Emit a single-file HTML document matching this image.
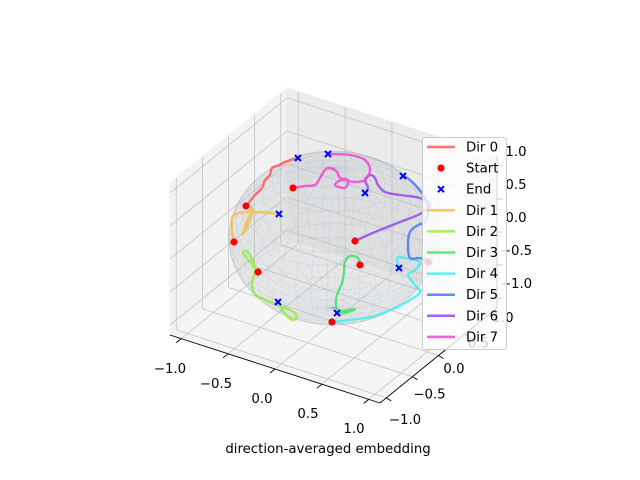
<!DOCTYPE html>
<html><head><meta charset="utf-8"><style>
html,body{margin:0;padding:0;background:#fff;}
svg{display:block;font-family:"DejaVu Sans","Liberation Sans",sans-serif;}
</style></head><body>
<svg id="chart" width="640" height="480" viewBox="0 0 640 480">
<g id="panes"></g>
<g id="grid"></g>
<g id="axes"></g>
<g id="sphere"></g>
<g id="traj"></g>
<g id="marks"></g>
<g id="labels" font-size="13.3" fill="#000"></g>
<text x="328" y="453" text-anchor="middle" font-size="13.3">direction-averaged embedding</text>
<g id="legend"></g>
</svg>
<script>
const ticks = [-1.0, -0.5, 0.0, 0.5, 1.0];
const tickText = ["−1.0", "−0.5", "0.0", "0.5", "1.0"];
const dirNames = ["Dir 0","Dir 1","Dir 2","Dir 3","Dir 4","Dir 5","Dir 6","Dir 7"];
const dirColors = ["#ff5a5a","#f2c04a","#98ec40","#40e46a","#40f0ee","#4a78ec","#9a45ee","#ee48d0"];
const dir0 = [[-87,32],[-78,43],[-71,50],[-68,58],[-63,63],[-61,70],[-53,73],[-48,76],[-35,80]];
const dir1 = [[-99,-4],[-101,8],[-101,20],[-95,25],[-85,26],[-81,30],[-83,18],[-90,4],[-83,23],[-75,26],[-54,24]];
const dir2 = [[-75,-34],[-83,-24],[-90,-15],[-85,-14],[-78,-30],[-81,-44],[-78,-56],[-63,-64],[-43,-72],[-36,-78],[-41,-82],[-51,-72],[-55,-64]];
const dir3 = [[27,-27],[25,-20],[17,-18],[12,-24],[11,-34],[9,-45],[4,-57],[3,-68],[7,-73],[22,-71],[12,-75],[4,-75]];
const dir4 = [[-1,-84],[17,-82],[42,-78],[62,-70],[77,-62],[87,-54],[82,-47],[75,-37],[82,-32],[87,-24],[72,-20],[64,-20],[66,-30]];
const dir5 = [[95,-24],[87,-20],[77,-20],[75,-7],[77,6],[85,13],[92,16],[95,28],[92,40],[85,50],[77,58],[70,62]];
const dir6 = [[22,-3],[42,6],[67,16],[87,24],[97,33],[87,40],[67,43],[52,46],[45,53],[42,60],[37,63],[32,58],[35,50],[32,45]];
const dir7 = [[-40,50],[-28,52],[-18,53],[-13,60],[-8,68],[-3,70],[4,66],[7,60],[15,58],[12,50],[2,53],[9,58],[22,56],[32,58],[37,68],[32,78],[17,83],[-5,84]];
const startPts = [[-87,32],[-99,-4],[-75,-34],[27,-27],[-1,-84],[95,-24],[22,-3],[-40,50]];
const endPts = [[-35,80],[-54,24],[-55,-64],[4,-75],[66,-30],[70,62],[32,45],[-5,84]];

const NS="http://www.w3.org/2000/svg";
function mk(tag, attrs, parent){const e=document.createElementNS(NS,tag);for(const k in attrs)e.setAttribute(k,attrs[k]);parent.appendChild(e);return e;}
const C=[333.5,245.5], EX=[105,34], EY=[58.5,-47.5], EZ=[0,-76];
const LX=1.12, LY=1.12, LZ=1.15;
function P(bx,by,bz){return [C[0]+bx*EX[0]+by*EY[0]+bz*EZ[0], C[1]+bx*EX[1]+by*EY[1]+bz*EZ[1]];}
function pts(arr){return arr.map(p=>p[0].toFixed(1)+","+p[1].toFixed(1)).join(" ");}
const SC=[333,238];
function sx(u){return SC[0]+u;}
function sy(v){return SC[1]-v;}
// smooth path through points (Catmull-Rom)
function smooth(arr){
  const p=arr.map(q=>[sx(q[0]),sy(q[1])]);
  let d="M"+p[0][0]+" "+p[0][1];
  for(let i=0;i<p.length-1;i++){
    const p0=p[Math.max(0,i-1)],p1=p[i],p2=p[i+1],p3=p[Math.min(p.length-1,i+2)];
    const c1=[p1[0]+(p2[0]-p0[0])/6,p1[1]+(p2[1]-p0[1])/6];
    const c2=[p2[0]-(p3[0]-p1[0])/6,p2[1]-(p3[1]-p1[1])/6];
    d+=`C${c1[0].toFixed(1)} ${c1[1].toFixed(1)} ${c2[0].toFixed(1)} ${c2[1].toFixed(1)} ${p2[0]} ${p2[1]}`;
  }
  return d;
}

const panes=document.getElementById('panes');
let e;
e=mk('polygon',{points:pts([P(-1,-1,-1),P(-1,1,-1),P(-1,1,1),P(-1,-1,1)]),fill:"#f2f2f2",stroke:"#f2f2f2"},panes);


e=mk('polygon',{points:pts([P(-1,1,-1),P(1,1,-1),P(1,1,1),P(-1,1,1)]),fill:"#ebebeb",stroke:"#ebebeb"},panes);


e=mk('polygon',{points:pts([P(-1,-1,-1),P(1,-1,-1),P(1,1,-1),P(-1,1,-1)]),fill:"#f5f5f5",stroke:"#f5f5f5"},panes);



const grid=document.getElementById('grid');
function gl(a,b,name){const l=mk('line',{x1:a[0],y1:a[1],x2:b[0],y2:b[1],stroke:"#c4c4c4","stroke-width":0.8},grid);}
ticks.forEach(t=>{
  const bx=t/LX, by=t/LY, bz=t/LZ;
  gl(P(bx,1,-1),P(bx,1,1),'grid-x-back');
  gl(P(bx,-1,-1),P(bx,1,-1),'grid-x-floor');
  gl(P(-1,by,-1),P(-1,by,1),'grid-y-left');
  gl(P(-1,by,-1),P(1,by,-1),'grid-y-floor');
  gl(P(-1,-1,bz),P(-1,1,bz),'grid-z-left');
  gl(P(-1,1,bz),P(1,1,bz),'grid-z-back');
});

const axes=document.getElementById('axes');
function al(a,b,name){const l=mk('line',{x1:a[0],y1:a[1],x2:b[0],y2:b[1],stroke:"#000","stroke-width":0.9},axes);}
al(P(-1,-1,-1),P(1,-1,-1),'x-axis-line');
al(P(1,-1,-1),P(1,1,-1),'y-axis-line');
al(P(1,1,-1),P(1,1,1),'z-axis-line');
ticks.forEach(t=>{
  const a=P(t/LX,-1,-1); al(a,[a[0]-5,a[1]+4],'x-tick');
  const b=P(1,t/LY,-1); al(b,[b[0]+5,b[1]+3],'y-tick');
  const c=P(1,1,t/LZ); al(c,[c[0]+6,c[1]],'z-tick');
});

const sph=document.getElementById('sphere');
e=mk('ellipse',{cx:SC[0],cy:SC[1],rx:104,ry:87,fill:"rgba(185,195,200,0.28)",stroke:"rgba(150,160,170,0.4)","stroke-width":0.6},sph);


const R=104,K=0.775;
function sp(th,ph){const x=Math.cos(ph)*Math.cos(th),y=Math.cos(ph)*Math.sin(th),z=Math.sin(ph)*K;return [SC[0]+R*(0.866*x+0.5*y), SC[1]-R*(-0.25*x+0.433*y+0.866*z)];}
let d="";
for(let i=1;i<20;i++){const ph=-Math.PI/2+i*Math.PI/20;let s=[];for(let j=0;j<=48;j++)s.push(sp(j*2*Math.PI/48,ph));d+="M"+s.map(p=>p[0].toFixed(1)+" "+p[1].toFixed(1)).join("L");}
for(let j=0;j<40;j++){const th=j*2*Math.PI/40;let s=[];for(let i=0;i<=24;i++)s.push(sp(th,-Math.PI/2+i*Math.PI/24));d+="M"+s.map(p=>p[0].toFixed(1)+" "+p[1].toFixed(1)).join("L");}
e=mk('path',{d:d,fill:"none",stroke:"rgba(120,140,150,0.22)","stroke-width":0.35},sph);



const traj=document.getElementById('traj');
const paths=[dir0,dir1,dir2,dir3,dir4,dir5,dir6,dir7];
paths.forEach((arr,i)=>{
  const l=mk('path',{d:smooth(arr),fill:"none",stroke:dirColors[i],"stroke-width":2.4,"stroke-linejoin":"round","stroke-linecap":"round","stroke-opacity":0.85},traj);
  
  
});
const marks=document.getElementById('marks');
startPts.forEach(p=>{
  const c=mk('circle',{cx:sx(p[0]),cy:sy(p[1]),r:3.6,fill:"#ff0000"},marks);
  
  
});
endPts.forEach(p=>{
  const x=sx(p[0]),y=sy(p[1]);
  const m=mk('path',{d:`M${x-3} ${y-3}L${x+3} ${y+3}M${x-3} ${y+3}L${x+3} ${y-3}`,stroke:"#0000ff","stroke-width":2},marks);
  
  
});

const lab=document.getElementById('labels');
ticks.forEach((t,i)=>{
  let tx=mk('text',{x:262+92*t,y:403+30*t,"text-anchor":"middle"},lab);tx.textContent=tickText[i];
  
  
  let ty=mk('text',{x:454+49*t,y:373-51*t,"text-anchor":"middle"},lab);ty.textContent=tickText[i];
  
  
  let tz=mk('text',{x:516,y:222-66*t,"text-anchor":"middle"},lab);tz.textContent=tickText[i];
  
  
});

const lg=document.getElementById('legend');
e=mk('rect',{x:422.5,y:137.5,width:84,height:212,rx:3,fill:"rgba(255,255,255,0.8)",stroke:"#cccccc"},lg);


const entries=[["Dir 0","line",dirColors[0]],["Start","dot","#ff0000"],["End","x","#0000ff"]];
for(let i=1;i<8;i++)entries.push([dirNames[i],"line",dirColors[i]]);
entries.forEach((en,i)=>{
  const y=147+21.1*i;
  const g=mk('g',{},lg);
  
  
  if(en[1]==="line")mk('line',{x1:427,y1:y,x2:455,y2:y,stroke:en[2],"stroke-width":2.5,"stroke-opacity":0.85},g);
  else if(en[1]==="dot")mk('circle',{cx:441,cy:y,r:3.6,fill:en[2]},g);
  else mk('path',{d:`M438 ${y-3}L444 ${y+3}M438 ${y+3}L444 ${y-3}`,stroke:en[2],"stroke-width":2},g);
  const t=mk('text',{x:466,y:y+4.5,"font-size":13.3},g);t.textContent=en[0];
});
</script>
</body></html>
